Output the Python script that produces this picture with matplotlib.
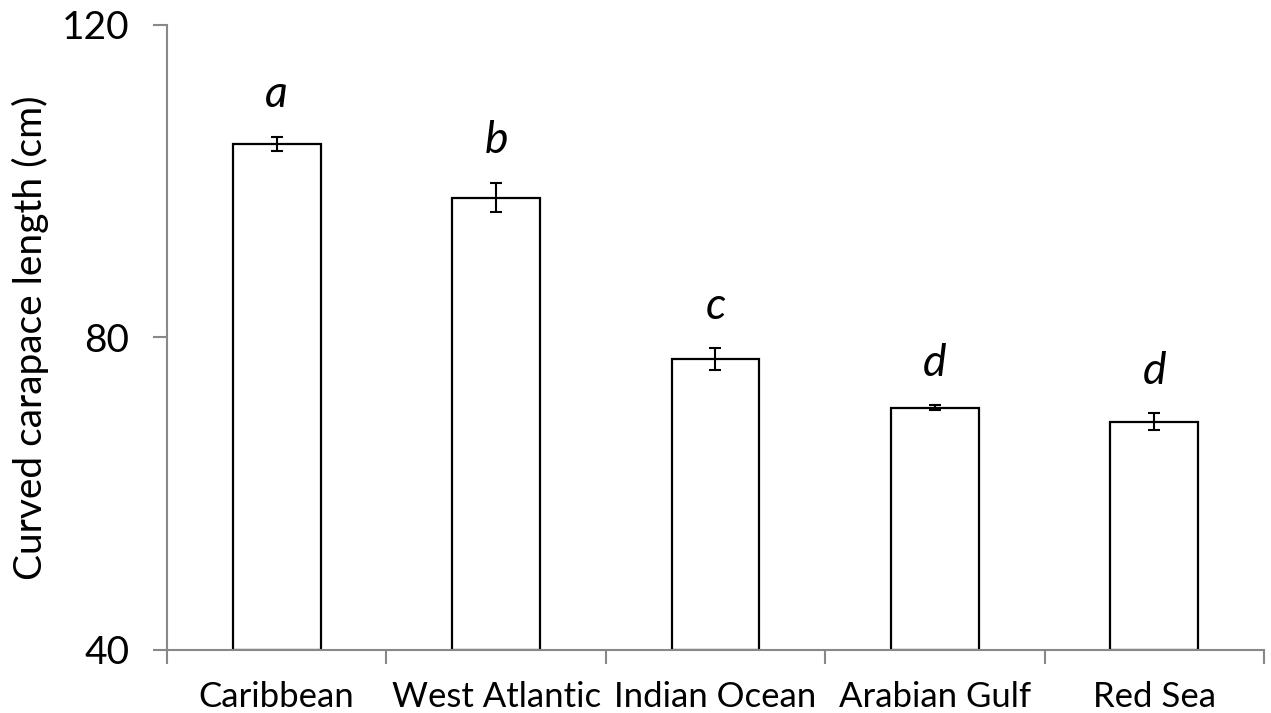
import numpy as np
import matplotlib.pyplot as plt

regions = ["Caribbean", "West Atlantic", "Indian Ocean", "Arabian Gulf", "Red Sea"]
ccl_mean = [104.8, 97.9, 77.2, 71.0, 69.2]
ccl_se = [0.9, 1.9, 1.4, 0.3, 1.1]
groups = ["a", "b", "c", "d", "d"]

plt.rcParams['font.family'] = ['Lato', 'DejaVu Sans']

fig = plt.figure(figsize=(12.71, 7.13), dpi=100)
ax = fig.add_axes([0.1314, 0.0884, 0.863, 0.8766])

x = np.arange(len(regions))
ax.bar(x, np.array(ccl_mean) - 40, bottom=40, width=0.4, color='white',
       edgecolor='black', linewidth=1.6, zorder=2)
ax.errorbar(x, ccl_mean, yerr=ccl_se, fmt='none', ecolor='black',
            elinewidth=1.5, capsize=4.5, capthick=1.5, zorder=3)

for xi, m, e, g in zip(x, ccl_mean, ccl_se, groups):
    ax.text(xi, m + e + 3.8, g, ha='center', va='baseline',
            fontsize=32, style='italic')

ax.set_xlim(-0.5, len(regions) - 0.5)
ax.set_ylim(40, 120)
ax.set_yticks([40, 80, 120])
ax.tick_params(axis='y', labelsize=28, length=10, width=1.5, color='#888888', pad=17)

# category boundaries as x ticks, names as labels between them
ax.set_xticks(np.arange(len(regions) + 1) - 0.5)
ax.set_xticklabels([])
ax.tick_params(axis='x', which='major', length=10, width=1.5, color='#888888')
ax.set_xticks(x, minor=True)
ax.set_xticklabels(regions, minor=True)
ax.tick_params(axis='x', which='minor', length=0, labelsize=25, pad=22)

ax.set_ylabel("Curved carapace length (cm)", fontsize=28, labelpad=9)

for side in ['top', 'right']:
    ax.spines[side].set_visible(False)
for side in ['left', 'bottom']:
    ax.spines[side].set_color('#888888')
    ax.spines[side].set_linewidth(1.5)

fig.savefig("out.png", dpi=100)
